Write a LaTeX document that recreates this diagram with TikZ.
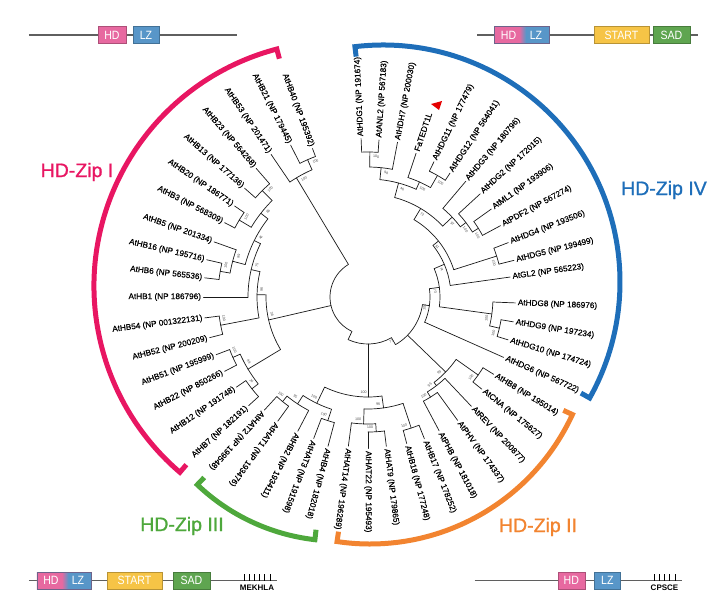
\documentclass[tikz,border=0pt]{standalone}
\usepackage{fontspec}
\setmainfont{Liberation Sans}
\newfontfamily\narrowfont[FakeStretch=0.88]{Liberation Sans}
\newfontfamily\labfont[FakeBold=0.6]{Liberation Sans}
\newfontfamily\cladefont[FakeBold=1.2]{Liberation Sans}
\definecolor{hdpink}{RGB}{231,105,160}
\definecolor{lzblue}{RGB}{88,150,200}
\definecolor{startyel}{RGB}{246,196,70}
\definecolor{sadgreen}{RGB}{95,165,80}
\definecolor{cpink}{RGB}{232,22,98}
\definecolor{cblue}{RGB}{30,110,185}
\definecolor{corange}{RGB}{242,132,48}
\definecolor{cgreen}{RGB}{78,168,60}
\definecolor{dline}{RGB}{95,95,95}
\pgfdeclarehorizontalshading{hdlz}{100bp}{color(0bp)=(hdpink); color(25bp)=(hdpink); color(48bp)=(hdpink); color(54bp)=(lzblue); color(75bp)=(lzblue); color(100bp)=(lzblue)}
\begin{document}
\begin{tikzpicture}[x=1pt,y=1pt,
  br/.style={line width=0.7pt, draw=black!90, line cap=round},
  lab/.style={font=\labfont\fontsize{8.2}{9}\selectfont, inner sep=0.8pt},
  bs/.style={font=\fontsize{3.6}{4}\selectfont, text=black!70, inner sep=0pt},
  cladearc/.style={line width=5pt, line cap=butt, line join=miter},
  cladelab/.style={font=\cladefont\fontsize{19.5}{21}\selectfont, inner sep=0pt},
  dbox/.style={draw=#1!75!black, fill=#1, line width=0.6pt, text=white, font=\narrowfont\fontsize{12}{12}\selectfont, inner sep=0pt, minimum height=17pt},
  btxt/.style={text=white, font=\narrowfont\fontsize{12}{12}\selectfont, inner sep=0pt},
  dln/.style={draw=dline, line width=1.3pt},
  tick/.style={draw=black, line width=0.6pt},
  motif/.style={font=\bfseries\fontsize{8}{8}\selectfont, inner sep=0pt}]
\useasboundingbox (-368,-301) rectangle (351,297);

% ---------- root ----------
\draw[br] (121:38pt) arc[start angle=121, end angle=245, radius=38pt];

% ---------- internal nodes: r / from / to / attach angle / parent r ----------
\foreach \nr/\aa/\ab/\at/\pr in {
145/86/92.5/89.25/130, 130/79.2/89.25/84.2/118, 140/56.5/64/60.25/126,
126/60.25/71.5/65.9/118, 118/65.9/84.2/75/103, 130/28.3/35.5/31.9/123,
123/31.9/42.6/37.25/116, 116/37.25/49.8/43.5/103, 103/43.5/75/59.25/90,
135/14.1/21.2/17.65/90, 90/17.65/59.25/38.45/83, 83/8/38.45/23.2/72,
135/-17/-9.7/-13.35/125, 125/-13.35/-2.3/-7.8/72, 72/-7.8/23.2/7.7/62,
62/-24/7.7/-8/55, 135/-39/-31.6/-35.3/108, 118/-62/-54/-58/112,
112/-58/-46.6/-52.3/108, 108/-52.3/-35.3/-44/55, 55/-60/-8/-60/47,
47/245/300/245/38, 138/284.8/291.7/288.25/112, 135/270/277/273.5/127,
127/262.5/273.5/268/112, 112/268/288.25/278/100, 135/227.5/234/230.75/128,
128/230.75/242.4/236.6/118, 130/249/255/252/118, 118/236.6/252/244.3/100,
100/244.3/278/270/47, 150/110.5/117/113.75/139, 139/113.75/124.2/121/38,
150/167/173.3/170.15/140, 140/160.3/170.15/165.2/127, 150/145.7/152.6/149.15/136,
150/131/138.6/134.8/136, 136/134.8/149.15/142/127, 127/142/165.2/153.6/120,
120/153.6/180/166.8/111, 150/187.3/194.4/190.85/111, 111/166.8/190.85/178.8/102,
148/200.8/207.4/204.1/140, 148/214.4/222.3/218.35/140, 140/204.1/218.35/211/102,
102/178.8/211/193/38}{
  \draw[br] (\aa:\nr pt) arc[start angle=\aa, end angle=\ab, radius=\nr pt];
  \draw[br] (\at:\pr pt) -- (\at:\nr pt);
}

% ---------- leaves: angle / parent r / label r / text ----------
\foreach \ang/\pr/\rl/\txt [count=\i] in {
92.5/145/160/AtHDG1 (NP 191674),
86/145/159/AtANL2 (NP 567183),
79.2/130/159/AtHDH7 (NP 200030),
71.5/126/153/FaTEDT1L,
64/140/152/AtHDG11 (NP 177479),
56.5/140/150/AtHDG12 (NP 564041),
49.8/116/153/AtHDG3 (NP 180796),
42.6/123/154/AtHDG2 (NP 172015),
35.5/130/153/AtML1 (NP 193906),
28.3/130/152/AtPDF2 (NP 567274),
21.2/135/152/AtHDG4 (NP 193506),
14.1/135/152/AtHDG5 (NP 199499),
8/83/145/AtGL2 (NP 565223),
-2.3/125/149/AtHDG8 (NP 186976),
-9.7/135/149/AtHDG9 (NP 197234),
-17/135/148/AtHDG10 (NP 174724),
-24/62/150/AtHDG6 (NP 567722),
-31.6/135/149/AtHB8 (NP 195014),
-39/135/148/AtCNA (NP 175627),
-46.6/112/152/AtREV (NP 200877),
-54/118/154/AtPHV (NP 174337),
-62/118/153/AtPHB (NP 181018),
291.7/138/154/AtHB17 (NP 178252),
284.8/138/153/AtHB18 (NP 177248),
277/135/152/AtHAT9 (NP 179865),
270/135/153/AtHAT22 (NP 195493),
262.5/127/152/AtHAT14 (NP 196289),
255/130/156/AtHB4 (NP 182018),
249/130/153/AtHAT3 (NP 191598),
242.4/128/153/AtHB2 (NP 193411),
234/135/155/AtHAT1 (NP 193476),
227.5/135/155/AtHAT2 (NP 199548),
222.3/148/163/AtHB7 (NP 182191),
214.4/148/161/AtHB12 (NP 191748),
207.4/148/163/AtHB22 (NP 850266),
200.8/148/164/AtHB51 (NP 195999),
194.4/150/165/AtHB52 (NP 200209),
187.3/150/166/AtHB54 (NP 001322131),
180/120/166/AtHB1 (NP 186796),
173.3/150/166/AtHB6 (NP 565536),
167/150/167/AtHB16 (NP 195716),
160.3/140/165/AtHB5 (NP 201334),
152.6/150/163/AtHB3 (NP 568309),
145.7/150/163/AtHB20 (NP 186771),
138.6/150/166/AtHB13 (NP 177136),
131/150/172/AtHB23 (NP 564268),
124.2/139/174/AtHB53 (NP 201471),
117/150/172/AtHB21 (NP 179445),
110.5/150/160/AtHB40 (NP 195392)}{
  \pgfmathsetmacro\tp{\rl-1.5}
  \draw[br] (\ang:\pr pt) -- (\ang:\tp pt);
  \ifdim\ang pt>95pt
    \ifdim\ang pt<225pt
      \node[lab, anchor=east, rotate=\ang-180] (L\i) at (\ang:\rl pt) {\txt};
    \else
      \node[lab, anchor=west, rotate=\ang] (L\i) at (\ang:\rl pt) {\txt};
    \fi
  \else
    \node[lab, anchor=west, rotate=\ang] (L\i) at (\ang:\rl pt) {\txt};
  \fi
}

% ---------- bootstrap values ----------
\foreach \ba/\brr/\bv [count=\j] in {
89.25/145/100, 84.2/130/98, 60.25/140/100, 65.9/126/100, 75/118/46, 31.9/130/100,
37.25/123/100, 43.5/116/97, 59.25/103/72, 17.65/135/100, 38.45/90/51, 23.2/83/74,
-13.35/135/100, -7.8/125/100, 7.7/72/73, -8/62/100, -35.3/135/100, -58/118/100,
-52.3/112/95, -44/108/99, -60/55/77, 288.25/138/100, 273.5/135/100, 268/127/100,
278/112/96, 230.75/135/100, 236.6/128/95, 252/130/100, 244.3/118/100, 270/100/100,
113.75/150/100, 121/139/100, 170.15/150/100, 165.2/140/89, 149.15/150/100,
134.8/150/100, 142/136/86, 153.6/127/46, 166.8/120/75, 190.85/150/100,
178.8/111/96, 204.1/148/100, 218.35/148/24, 211/140/88, 193/102/38}{
  \pgfmathsetmacro\bx{\ba-2.6}
  \pgfmathsetmacro\by{\brr-4.5}
  \pgfmathsetmacro\rot{mod(\ba+360,360)<180 ? \ba-90 : \ba+90}
  \node[bs, rotate=\rot] (B\j) at (\bx:\by pt) {\bv};
}

% ---------- red triangle ----------
\fill[red!90!black] (63,193) -- (74,196) -- (71,187) -- cycle;

% ---------- clade arcs ----------
\begin{scope}[shift={(-29,11)}]
  \draw[cladearc, cpink] (104.7:235pt) -- (104.7:245pt) arc[start angle=104.7, end angle=229.5, radius=245pt] -- (229.5:235pt);
\end{scope}
\begin{scope}[shift={(15,15)}]
  \draw[cladearc, cblue] (96.8:227pt) -- (96.8:237pt) arc[start angle=96.8, end angle=-29.3, radius=237pt] -- (-29.3:227pt);
\end{scope}
\begin{scope}[shift={(2,-24)}]
  \draw[cladearc, corange] (261.5:213pt) -- (261.5:223pt) arc[start angle=261.5, end angle=335.2, radius=223pt] -- (335.2:213pt);
\end{scope}
\begin{scope}[shift={(-30,-40)}]
  \draw[cladearc, cgreen] (226.4:194pt) -- (226.4:204pt) arc[start angle=226.4, end angle=263.5, radius=204pt] -- (263.5:194pt);
\end{scope}

% ---------- clade labels ----------
\node[cladelab, text=cpink] (cI) at (-291,125) {HD-Zip I};
\node[cladelab, text=cblue] (cIV) at (296,107) {HD-Zip IV};
\node[cladelab, text=cgreen] (cIII) at (-186,-229) {HD-Zip III};
\node[cladelab, text=corange] (cII) at (170,-230) {HD-Zip II};

% ---------- domain diagrams ----------
% top left
\coordinate (tlA) at (-339,262); \coordinate (tlB) at (-131,262);
\draw[dln] (tlA) -- (tlB);
\node[dbox=hdpink, minimum width=28pt] (tlHD) at (-256,262) {HD};
\node[dbox=lzblue, minimum width=26pt] (tlLZ) at (-222,262) {LZ};
% top right
\coordinate (trA) at (109,262); \coordinate (trB) at (330,262);
\draw[dln] (trA) -- (trB);
\shade[shading=hdlz] (126,253.5) rectangle (181,270.5);
\draw[lzblue!60!hdpink!75!black, line width=0.6pt] (126,253.5) rectangle (181,270.5);
\node[btxt] (trHD) at (140.5,262) {HD};
\node[btxt] (trLZ) at (168,262) {LZ};
\node[dbox=startyel, minimum width=55pt] (trST) at (253.5,262) {START};
\node[dbox=sadgreen, minimum width=37pt] (trSAD) at (303.5,262) {SAD};
% bottom left
\coordinate (blA) at (-339,-283.5); \coordinate (blB) at (-91.5,-283.5);
\draw[dln] (blA) -- (blB);
\shade[shading=hdlz] (-331,-292) rectangle (-277,-275);
\draw[lzblue!60!hdpink!75!black, line width=0.6pt] (-331,-292) rectangle (-277,-275);
\node[btxt] (blHD) at (-317,-283.5) {HD};
\node[btxt] (blLZ) at (-290,-283.5) {LZ};
\node[dbox=startyel, minimum width=55pt] (blST) at (-233.5,-283.5) {START};
\node[dbox=sadgreen, minimum width=37pt] (blSAD) at (-176.5,-283.5) {SAD};
\foreach \k in {0,...,5}{\draw[tick] (-124+5.2*\k,-283.5) -- (-124+5.2*\k,-276.5);}
\node[motif] (mek) at (-111,-290.5) {MEKHLA};
% bottom right
\coordinate (brA) at (106.7,-283.5); \coordinate (brB) at (314,-283.5);
\draw[dln] (brA) -- (brB);
\node[dbox=hdpink, minimum width=27pt] (brHD) at (203.3,-283.5) {HD};
\node[dbox=lzblue, minimum width=26pt] (brLZ) at (239.3,-283.5) {LZ};
\foreach \k in {0,...,4}{\draw[tick] (286+5.25*\k,-283.5) -- (286+5.25*\k,-276.5);}
\node[motif] (cps) at (296.5,-290.5) {CPSCE};
\end{tikzpicture}
\end{document}
